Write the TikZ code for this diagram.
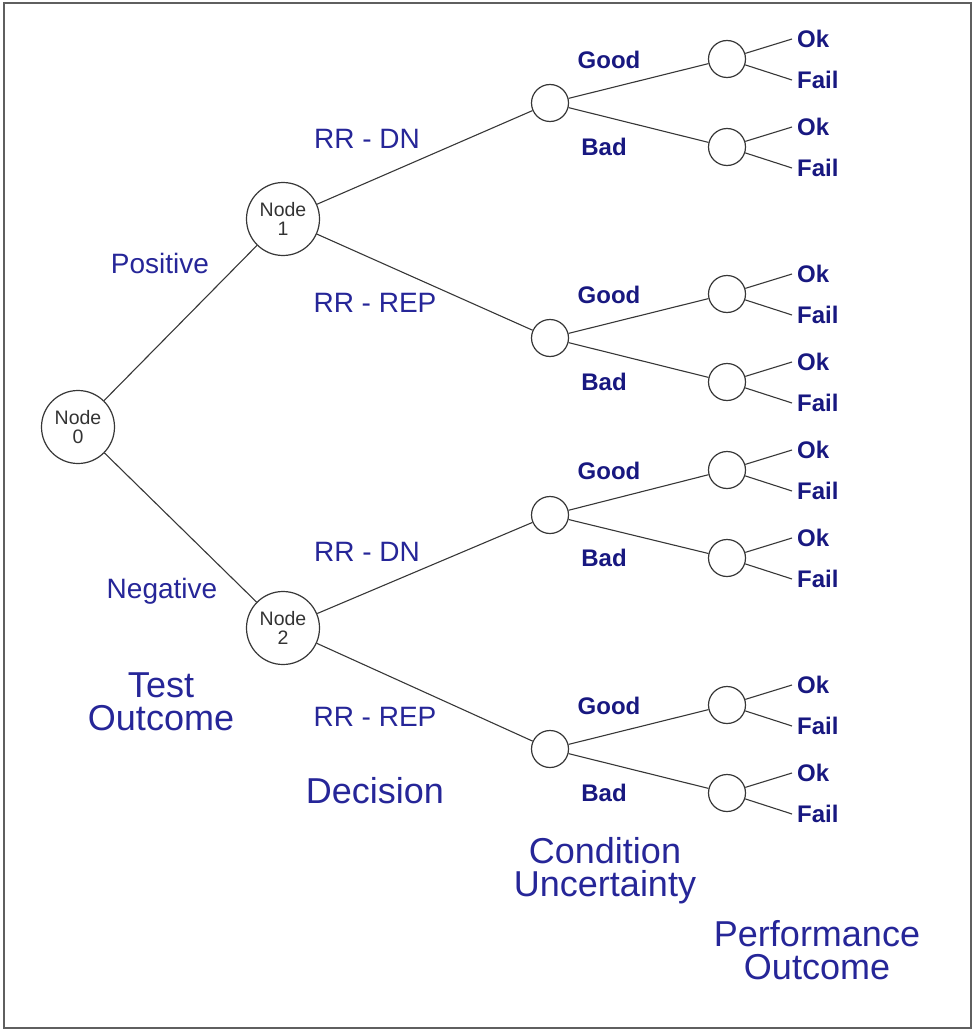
\documentclass[tikz,border=0pt]{standalone}
\usepackage{fontspec}
\setmainfont{Liberation Sans}
\definecolor{navy}{RGB}{38,38,152}
\definecolor{navyb}{RGB}{24,24,128}
\definecolor{linegray}{RGB}{55,55,55}
\definecolor{framegray}{RGB}{95,95,95}
\begin{document}
\begin{tikzpicture}[x=1pt,y=-1pt,
  edge/.style={draw=linegray, line width=1.1pt},
  bignode/.style={circle,draw=linegray,line width=1.2pt,minimum size=73pt,inner sep=0pt,align=center,font=\fontsize{19.5}{18.5}\selectfont,text=black!80},
  smallnode/.style={circle,draw=linegray,line width=1.2pt,minimum size=37pt,inner sep=0pt},
  brlabel/.style={text=navy,font=\fontsize{28}{30}\selectfont,inner sep=0pt,text height=20pt,text depth=0pt},
  boldlabel/.style={text=navyb,font=\bfseries\fontsize{24}{26}\selectfont,inner sep=0pt,text height=17pt,text depth=0pt},
  leaflabel/.style={boldlabel,anchor=west},
  titlelabel/.style={text=navy,font=\fontsize{36}{33}\selectfont,align=center,inner sep=0pt}]
\useasboundingbox (0,0) rectangle (973,1030);
\draw[draw=framegray, line width=2pt] (4,3) rectangle (970.5,1027.5);

% decision / chance nodes
\node[bignode] (n0) at (78,427) {Node\\0};
\node[bignode] (n1) at (283,219) {Node\\1};
\node[bignode] (n2) at (283,628) {Node\\2};

\node[smallnode] (c1) at (550,103) {};
\node[smallnode] (c2) at (550,338) {};
\node[smallnode] (c3) at (550,515) {};
\node[smallnode] (c4) at (550,749) {};

\foreach \i/\ya/\yb in {1/59/147, 2/294/382, 3/470/558, 4/705/793} {
  \node[smallnode] (p\i a) at (727,\ya) {};
  \node[smallnode] (p\i b) at (727,\yb) {};
  \draw[edge] (c\i) -- (p\i a);
  \draw[edge] (c\i) -- (p\i b);
  \node[boldlabel] (good\i) at (609,\ya+1) {Good};
  \node[boldlabel] (bad\i) at (604,\yb) {Bad};
  \foreach \s/\y in {a/\ya, b/\yb} {
    \coordinate (ok\i\s) at (792,\y-20);
    \coordinate (fail\i\s) at (792,\y+21);
    \draw[edge] (p\i\s) -- (ok\i\s);
    \draw[edge] (p\i\s) -- (fail\i\s);
    \node[leaflabel] (okl\i\s) at (797,\y-20) {Ok};
    \node[leaflabel] (faill\i\s) at (797,\y+21) {Fail};
  }
}

\draw[edge] (n0) -- (n1);
\draw[edge] (n0) -- (n2);
\draw[edge] (n1) -- (c1);
\draw[edge] (n1) -- (c2);
\draw[edge] (n2) -- (c3);
\draw[edge] (n2) -- (c4);

% branch labels
\node[brlabel] (pos) at (160,263) {Positive};
\node[brlabel] (neg) at (162,588) {Negative};
\node[brlabel] (dn1) at (367,138) {RR - DN};
\node[brlabel] (rep1) at (375,302) {RR - REP};
\node[brlabel] (dn2) at (367,551) {RR - DN};
\node[brlabel] (rep2) at (375,716) {RR - REP};

% stage titles
\node[titlelabel] (t1) at (161,702) {Test\\Outcome};
\node[titlelabel] (t2) at (375,791) {Decision};
\node[titlelabel] (t3) at (605,871) {Condition\\Uncertainty};
\node[titlelabel] (t4) at (817,950) {Performance\\Outcome};
\end{tikzpicture}
\end{document}
